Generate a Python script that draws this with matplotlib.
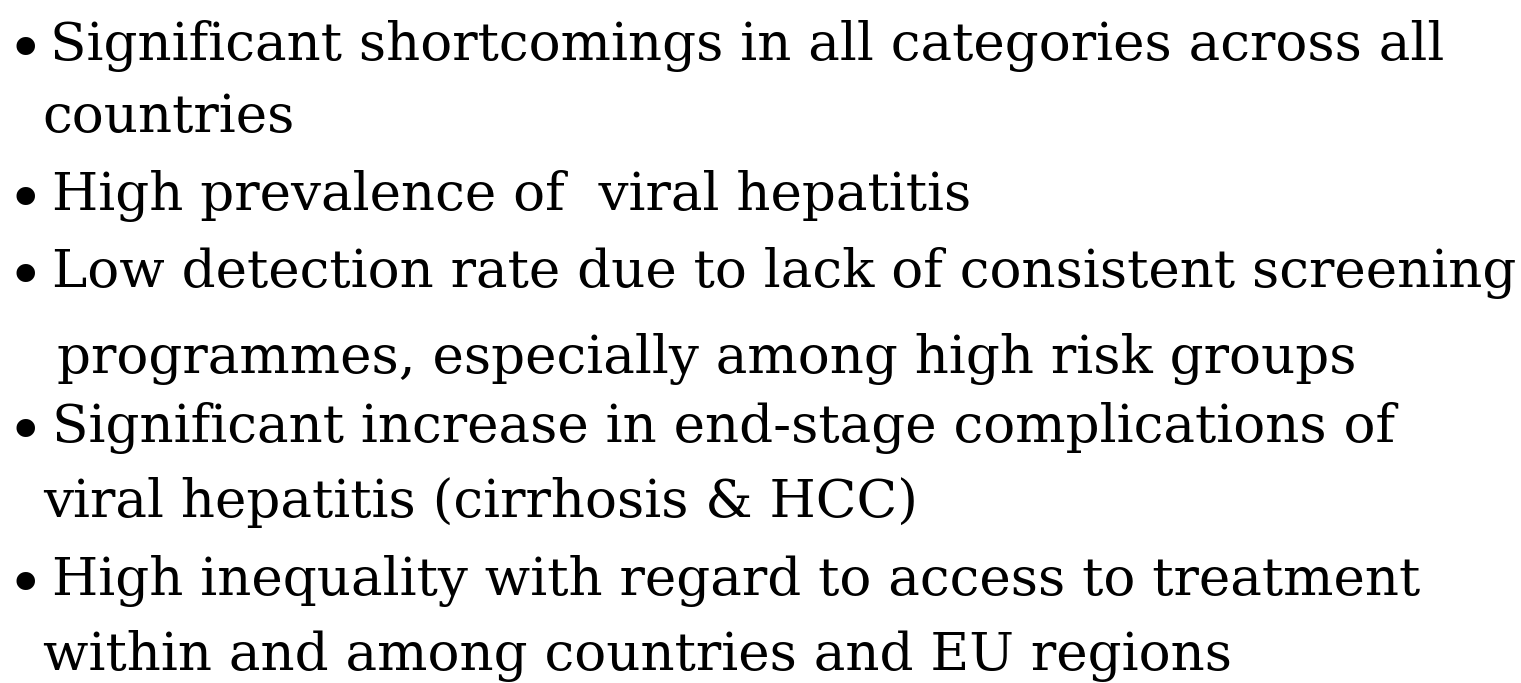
import matplotlib
matplotlib.use("Agg")
import matplotlib.pyplot as plt

# slide text, one entry per printed line
lines = [
    "Significant shortcomings in all categories across all",
    "countries",
    "High prevalence of  viral hepatitis",
    "Low detection rate due to lack of consistent screening",
    "programmes, especially among high risk groups",
    "Significant increase in end-stage complications of",
    "viral hepatitis (cirrhosis & HCC)",
    "High inequality with regard to access to treatment",
    "within and among countries and EU regions",
]
has_bullet = [True, False, True, True, False, True, False, True, False]
baselines = [60, 132, 210, 287, 373, 442, 517, 595, 670]
text_x = [50, 42, 52, 52, 57, 52, 43, 52, 43]

W, H = 1521, 683
fig = plt.figure(figsize=(W / 100, H / 100), dpi=100)
ax = fig.add_axes([0, 0, 1, 1])
ax.set_xlim(0, W)
ax.set_ylim(H, 0)
ax.axis("off")

family = "DejaVu Serif"
# size the font so the longest line spans the same width as in the slide
probe = ax.text(52, 288, lines[3], fontsize=40, family=family)
fig.canvas.draw()
w = probe.get_window_extent().width
probe.remove()
fs = 40 * (1515 - 52) / w

for txt, b, x, y in zip(lines, has_bullet, text_x, baselines):
    ax.text(x, y, txt, fontsize=fs, family=family, va="baseline", ha="left")
    if b:
        ax.text(25, y + 9, "\u2022", fontsize=fs * 1.2, family=family,
                va="baseline", ha="center")

fig.savefig("out.png", dpi=100)
